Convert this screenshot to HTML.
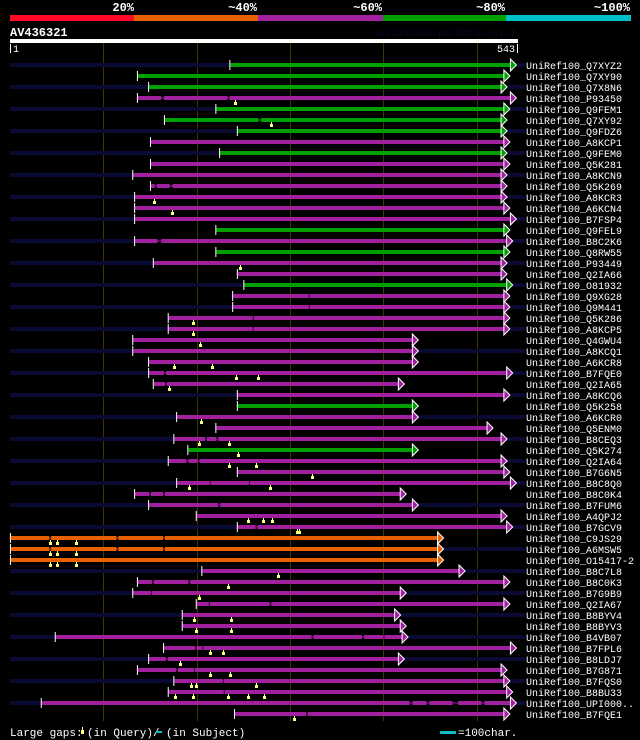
<!DOCTYPE html>
<html><head><meta charset="utf-8"><style>
html,body{margin:0;padding:0;background:#000;width:640px;height:740px;overflow:hidden}
svg{display:block}
text{font-family:"Liberation Mono","DejaVu Sans Mono",monospace;fill:#fff}
</style></head><body>
<svg id="chart" width="640" height="740" viewBox="0 0 640 740" xmlns="http://www.w3.org/2000/svg">
<rect x="0" y="0" width="640" height="740" fill="#000"/>
<g>
<rect x="10" y="15" width="124" height="6" fill="#ff0828"/>
<rect x="134" y="15" width="124" height="6" fill="#e86000"/>
<rect x="258" y="15" width="125" height="6" fill="#a020a0"/>
<rect x="383" y="15" width="123" height="6" fill="#00a000"/>
<rect x="506" y="15" width="125" height="6" fill="#00c0c8"/>
<text x="134" y="11" font-size="12" font-weight="bold" text-anchor="end">20%</text>
<text x="257" y="11" font-size="12" font-weight="bold" text-anchor="end">~40%</text>
<text x="382" y="11" font-size="12" font-weight="bold" text-anchor="end">~60%</text>
<text x="505" y="11" font-size="12" font-weight="bold" text-anchor="end">~80%</text>
<text x="630" y="11" font-size="12" font-weight="bold" text-anchor="end">~100%</text>
</g>
<text x="10" y="36" font-size="12" font-weight="bold">AV436321</text>
<text x="516" y="36" font-size="10" text-anchor="end" style="fill:#08082a">AlignView.pm Beta rel.7</text>
<rect x="10" y="39" width="508" height="4" fill="#fff"/>
<rect x="10" y="44" width="1" height="9" fill="#fff"/>
<text x="13" y="52" font-size="10">1</text>
<rect x="517" y="44" width="1" height="9" fill="#fff"/>
<text x="515" y="52" font-size="10" text-anchor="end">543</text>
<g id="grid"></g>
<g id="rows"></g>
<g>
<text x="10" y="736" font-size="11">Large gaps:</text>
<rect x="81" y="730" width="3" height="4" fill="#ffff80"/>
<rect x="82" y="727" width="1" height="3" fill="#ffff80"/>
<text x="87" y="736" font-size="11">(in Query)/</text>
<rect x="156" y="731" width="6" height="2" fill="#00c0c8"/>
<text x="166" y="736" font-size="11">(in Subject)</text>
<rect x="440" y="731" width="16" height="3" fill="#00c0c8"/>
<text x="458" y="736" font-size="11">=100char.</text>
</g>
</svg>
<script>
const queryLength = 543;
const labels = ["Q7XYZ2","Q7XY90","Q7X8N6","P93450","Q9FEM1","Q7XY92","Q9FDZ6","A8KCP1","Q9FEM0","Q5K281","A8KCN9","Q5K269","A8KCR3","A6KCN4","B7FSP4","Q9FEL9","B8C2K6","Q8RW55","P93449","Q2IA66","O81932","Q9XG28","Q9M441","Q5K286","A8KCP5","Q4GWU4","A8KCQ1","A6KCR8","B7FQE0","Q2IA65","A8KCQ6","Q5K258","A6KCR0","Q5ENM0","B8CEQ3","Q5K274","Q2IA64","B7G6N5","B8C8Q0","B8C0K4","B7FUM6","A4QPJ2","B7GCV9","C9JS29","A6MSW5","O15417-2","B8C7L8","B8C0K3","B7G9B9","Q2IA67","B8BYV4","B8BYV3","B4VB07","B7FPL6","B8LDJ7","B7G871","B7FQS0","B8BU33","UPI000..","B7FQE1"];
const starts = [236,137,149,137,221,166,244,151,225,151,132,151,134,134,134,221,134,221,154,244,251,239,239,170,170,132,132,149,149,154,244,244,179,221,176,191,170,244,179,134,149,200,244,1,1,1,206,137,132,200,185,185,49,165,149,137,176,170,34,241];
const ends = [537,530,527,537,530,527,527,530,527,530,527,527,527,530,537,530,533,530,527,527,533,530,530,530,530,432,432,432,533,417,530,432,432,512,527,432,527,530,537,419,432,527,533,459,459,459,482,530,419,530,413,419,421,537,417,527,530,533,537,530];
// identity class: 0=<20 red,1=orange,2=magenta,3=green
const identity = [3,3,3,2,3,3,3,2,3,2,2,2,2,2,2,3,2,3,2,2,3,2,2,2,2,2,2,2,2,2,2,3,2,2,2,3,2,2,2,2,2,2,2,1,1,1,2,2,2,2,2,2,2,2,2,2,2,2,2,2];
// query gap markers: row index, residue
const gapRows = [3,5,12,13,18,23,24,25,27,27,28,28,29,32,34,34,35,36,36,37,38,38,41,41,41,42,42,43,43,43,44,44,44,45,45,45,46,47,48,50,50,51,51,53,53,54,55,55,56,56,56,57,57,57,57,57,59];
const gapPos = [241,279,154,173,246,196,196,204,176,216,242,266,170,205,202,235,244,235,263,323,192,278,255,271,281,307,309,43,50,71,43,50,71,43,50,71,287,234,202,197,237,199,237,214,228,182,214,236,194,199,264,177,196,234,255,272,304];
// subject gaps: row index, from, to (residues)
const sgRows = [3,3,5,11,11,16,21,22,23,24,28,29,34,34,36,36,38,38,39,39,40,42,43,43,43,44,44,44,47,47,48,49,49,52,52,52,53,53,54,55,55,56,57,58,58,58,58,59];
const sgFrom = [162,233,266,155,171,158,320,320,260,260,165,166,209,221,189,201,214,256,149,164,223,263,42,114,164,42,114,164,152,191,151,213,278,323,377,400,198,206,167,178,197,228,229,428,446,474,505,317];
const sgTo = [165,235,269,157,174,162,321,321,261,261,167,168,211,223,191,203,215,257,151,166,225,265,44,116,166,44,116,166,154,193,152,214,280,325,379,401,200,207,169,180,198,229,230,431,449,480,508,319];

const palette = ["#ff0828","#e86000","#a020a0","#00a000"];
const NS = "http://www.w3.org/2000/svg";
const X0 = 10, PX = 507/543;
function xScale(r){ return X0 + r*PX; }
function yRow(i){ return 65 + i*11; }
function mk(tag, attrs, parent){
  const el = document.createElementNS(NS, tag);
  for (const k in attrs) el.setAttribute(k, attrs[k]);
  parent.appendChild(el);
  return el;
}
const grid = document.getElementById('grid');
for (let t = 100; t < queryLength; t += 100) {
  const g = mk('rect', {x: Math.round(xScale(t)), y: 43, width: 1, height: 678, fill: '#3a3a00'}, grid);
  
  
}
const rows = document.getElementById('rows');
for (let i = 0; i < labels.length; i++) {
  const y = yRow(i);
  const g = mk('g', {}, rows);
  
  
  if (i % 2 === 0) {
    const st = mk('rect', {x: 10, y: y-2, width: 515, height: 4, fill: '#0a0a32'}, g);
    
    
  }
  const col = palette[identity[i]];
  const x1 = xScale(starts[i]), x2 = xScale(ends[i]);
  const bar = mk('rect', {x: x1, y: y-2, width: x2-x1, height: 4, fill: col}, g);
  
  
  const tick = mk('rect', {x: x1-1, y: y-5, width: 1, height: 10, fill: '#fff'}, g);
  
  
  const ar = mk('path', {d: `M${x2-1},${y-6} L${x2+5},${y} L${x2-1},${y+6} Z`, fill: col, stroke: '#fff', 'stroke-width': 1}, g);
  
  
  const lb = mk('text', {x: 526, y: y+4, 'font-size': 10}, g);
  lb.textContent = 'UniRef100_' + labels[i];
  
  
}
for (let k = 0; k < sgRows.length; k++) {
  const y = yRow(sgRows[k]);
  const a = xScale(sgFrom[k]), b = xScale(sgTo[k]);
  const c = mk('rect', {x: a, y: y-2, width: b-a, height: 4, fill: '#000'}, rows);
  
  
  const l = mk('rect', {x: a, y: y-0.5, width: b-a, height: 1, fill: palette[identity[sgRows[k]]]}, rows);
  
  
}
for (let k = 0; k < gapRows.length; k++) {
  const y = yRow(gapRows[k]);
  const x = Math.round(xScale(gapPos[k]));
  const s = mk('rect', {x: x, y: y+2, width: 1, height: 2, fill: '#ffff80'}, rows);
  
  
  const m = mk('rect', {x: x-1, y: y+4, width: 3, height: 3, fill: '#ffff80'}, rows);
  
  
}
</script>
</body></html>
